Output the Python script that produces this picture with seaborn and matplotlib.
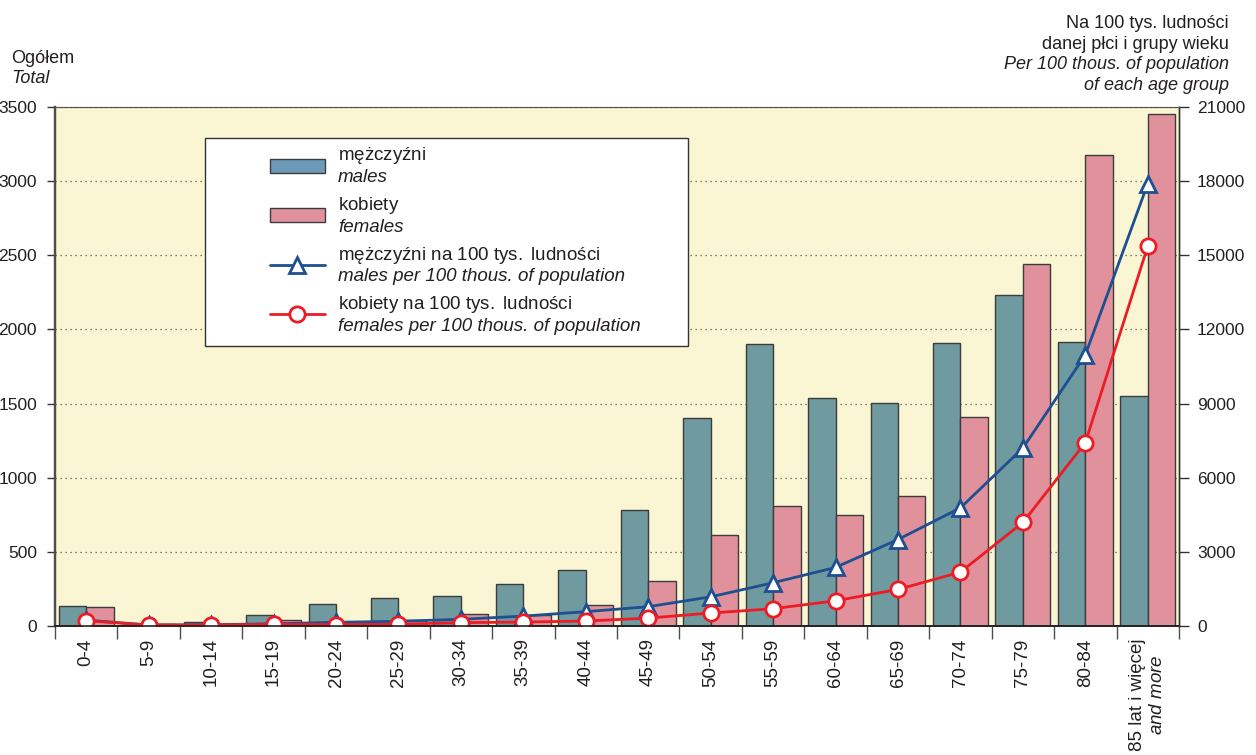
import numpy as np
import pandas as pd
import matplotlib.pyplot as plt
import seaborn as sns
from matplotlib.patches import Rectangle, Patch
from matplotlib.lines import Line2D

# age groups (last one gets a two-line label)
age_groups = ['0-4', '5-9', '10-14', '15-19', '20-24', '25-29', '30-34', '35-39', '40-44',
              '45-49', '50-54', '55-59', '60-64', '65-69', '70-74', '75-79', '80-84', '85+']
tick_labels = age_groups[:-1] + ['85 lat i więcej\n$\\it{and\\ more}$']

# totals (left axis)
males_total = [133, 10, 25, 74, 146, 186, 202, 280, 381, 781, 1400, 1905, 1535, 1506, 1911, 2235, 1918, 1548]
females_total = [128, 14, 12, 40, 30, 40, 79, 74, 141, 305, 612, 808, 749, 875, 1407, 2443, 3177, 3451]

# per 100 thous. of population of each age group (right axis)
males_rate = [240, 40, 50, 90, 150, 190, 270, 400, 580, 780, 1180, 1750, 2370, 3500, 4780, 7200, 10970, 17900]
females_rate = [210, 40, 40, 70, 60, 70, 135, 160, 200, 320, 525, 700, 1020, 1480, 2180, 4190, 7420, 15370]

# legend texts: polish line, english (italic) line
legend_pl = ['mężczyźni', 'kobiety', 'mężczyźni na 100 tys. ludności', 'kobiety na 100 tys. ludności']
legend_en = ['males', 'females', 'males per 100 thous. of population', 'females per 100 thous. of population']

male_col = '#6f9aa0'
female_col = '#e0919c'
blue = '#1d4f91'
red = '#ed1c24'
txt = '#231f20'

df = pd.DataFrame({
    'group': age_groups * 2,
    'sex': ['m'] * len(age_groups) + ['f'] * len(age_groups),
    'value': males_total + females_total,
})

sns.set_theme(style="ticks")
plt.rcParams['font.family'] = ['Liberation Sans', 'DejaVu Sans']
plt.rcParams['mathtext.fontset'] = 'custom'
plt.rcParams['mathtext.rm'] = 'Liberation Sans'
plt.rcParams['mathtext.it'] = 'Liberation Sans:italic'
plt.rcParams['text.color'] = txt

fig = plt.figure(figsize=(12.56, 7.55), dpi=100)
ax = fig.add_axes([55 / 1256, 1 - 626 / 755, 1124 / 1256, 519 / 755])
ax.set_facecolor('#faf5d2')

sns.barplot(data=df, x='group', y='value', hue='sex', order=age_groups, hue_order=['m', 'f'],
            palette={'m': male_col, 'f': female_col}, width=0.88, saturation=1,
            edgecolor='#3c3c3c', linewidth=1, legend=False, ax=ax)

ax.set_xlim(-0.5, len(age_groups) - 0.5)
ax.set_ylim(0, 3500)
ax.set_yticks(np.arange(0, 3501, 500))
ax.yaxis.grid(True, linestyle=(0, (1, 3)), color='#555555', linewidth=0.9)
ax.set_axisbelow(True)
ax.set_xlabel('')
ax.set_ylabel('')

ax.set_xticks(range(len(age_groups)))
ax.set_xticklabels(tick_labels, rotation=90, fontsize=13.5, color=txt, va='top', ha='center')
ax.set_xticks(np.arange(-0.5, len(age_groups), 1), minor=True)
ax.tick_params(axis='x', which='major', length=0, pad=9)
ax.tick_params(axis='x', which='minor', length=9, width=1, color='#4d4d4d')
ax.tick_params(axis='y', length=6, width=1, color='#333333', labelsize=12.5, labelcolor=txt, pad=7)

ax2 = ax.twinx()
xpos = np.arange(len(age_groups))
sns.lineplot(x=xpos, y=males_rate, ax=ax2, color=blue, linewidth=2, marker='^', markersize=11,
             markerfacecolor='white', markeredgecolor=blue, markeredgewidth=2, sort=False)
sns.lineplot(x=xpos, y=females_rate, ax=ax2, color=red, linewidth=2, marker='o', markersize=11,
             markerfacecolor='white', markeredgecolor=red, markeredgewidth=2, sort=False)
ax2.set_ylim(0, 21000)
ax2.set_yticks(np.arange(0, 21001, 3000))
ax2.set_xlim(-0.5, len(age_groups) - 0.5)
ax2.set_xlabel('')
ax2.set_ylabel('')
ax2.tick_params(axis='y', length=7, width=1, color='#333333', labelsize=12.5, labelcolor=txt, pad=6)

for a in (ax, ax2):
    a.spines['left'].set_color('#4d4d4d')
    a.spines['left'].set_linewidth(1.6)
    a.spines['right'].set_color('#333333')
    a.spines['right'].set_linewidth(1.0)
    a.spines['bottom'].set_color('#222222')
    a.spines['bottom'].set_linewidth(1.2)
    a.spines['top'].set_color('#555555')
    a.spines['top'].set_linewidth(0.8)

# legend with its own frame
ax2.add_patch(Rectangle((0.1335, 0.5404), 0.4297, 0.400, transform=ax2.transAxes,
                        facecolor='white', edgecolor='#333333', linewidth=1, zorder=5))
handles = [
    Patch(facecolor='#6b9bb8', edgecolor='#3c3c3c', linewidth=1),
    Patch(facecolor=female_col, edgecolor='#3c3c3c', linewidth=1),
    Line2D([], [], color=blue, linewidth=2, marker='^', markersize=11, markerfacecolor='white',
           markeredgecolor=blue, markeredgewidth=2),
    Line2D([], [], color=red, linewidth=2, marker='o', markersize=11, markerfacecolor='white',
           markeredgecolor=red, markeredgewidth=2),
]
# polish line upright (mathtext rm), english line in the text's italic style
labels = ['$\\mathrm{' + pl.replace(' ', '\\ ') + '}$\n' + en for pl, en in zip(legend_pl, legend_en)]
leg = ax2.legend(handles, labels, loc='upper left', bbox_to_anchor=(0.1913, 0.926),
                 frameon=False, fontsize=13.5, borderpad=0, borderaxespad=0,
                 handlelength=2.93, handleheight=0.75, handletextpad=0.7, labelspacing=0.48,
                 numpoints=1)
leg.set_zorder(6)
for t in leg.get_texts():
    t.set_color(txt)
    t.set_fontstyle('italic')

# axis headers
fig.text(11 / 1256, 1 - 63 / 755, 'Ogółem', fontsize=13, color=txt, va='baseline')
fig.text(11 / 1256, 1 - 83 / 755, 'Total', fontsize=13, color=txt, va='baseline', style='italic')
right_head = [('Na 100 tys. ludności', 'normal', 28), ('danej płci i grupy wieku', 'normal', 49),
              ('Per 100 thous. of population', 'italic', 69), ('of each age group', 'italic', 90)]
for s, st, yb in right_head:
    fig.text(1229 / 1256, 1 - yb / 755, s, fontsize=13, color=txt, va='baseline', ha='right', style=st)

fig.savefig('out.png', dpi=100)
